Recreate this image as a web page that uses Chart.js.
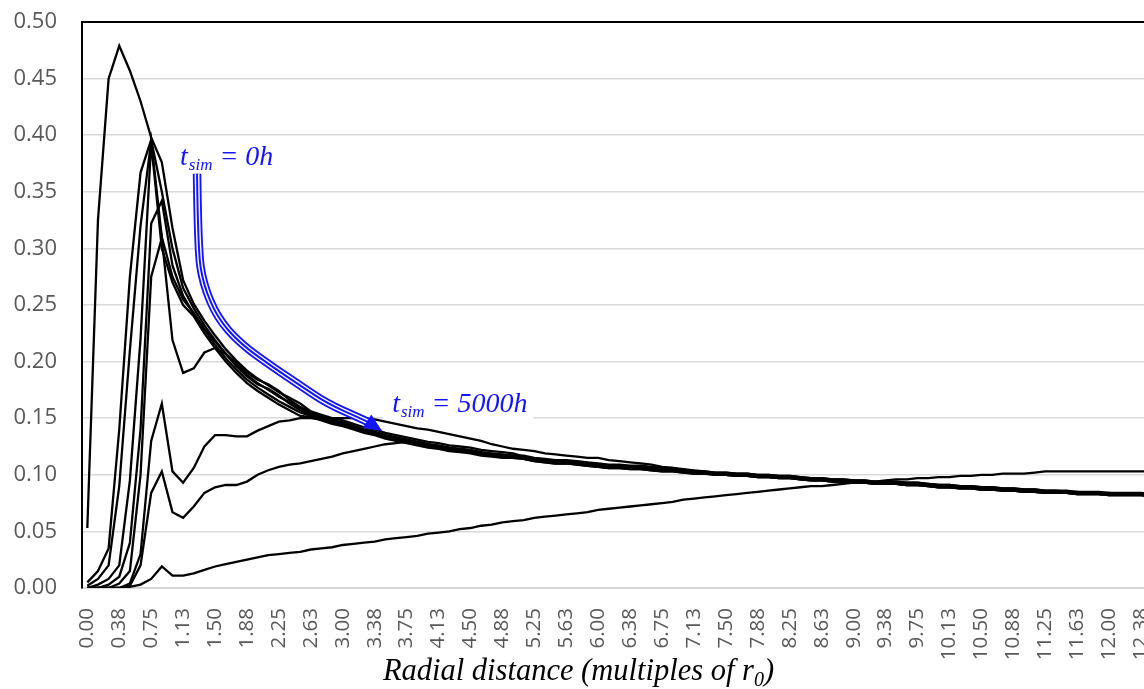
<!DOCTYPE html>
<html>
<head>
<meta charset="utf-8">
<script src="https://cdn.jsdelivr.net/npm/chart.js@4.4.1/dist/chart.umd.min.js"></script>
<style>
  html, body { margin: 0; padding: 0; background: #fff; overflow: hidden; }
  #wrap { width: 1157px; height: 689px; }
</style>
</head>
<body>
<div id="wrap"><canvas id="c" width="1157" height="689"></canvas></div>
<script>
// Radial distance categories (multiples of r0), step 0.125
const radialDistance = [
  "0.00","0.13","0.25","0.38","0.50","0.63","0.75","0.88","1.00","1.13",
  "1.25","1.38","1.50","1.63","1.75","1.88","2.00","2.13","2.25","2.38",
  "2.50","2.63","2.75","2.88","3.00","3.13","3.25","3.38","3.50","3.63",
  "3.75","3.88","4.00","4.13","4.25","4.38","4.50","4.63","4.75","4.88",
  "5.00","5.13","5.25","5.38","5.50","5.63","5.75","5.88","6.00","6.13",
  "6.25","6.38","6.50","6.63","6.75","6.88","7.00","7.13","7.25","7.38",
  "7.50","7.63","7.75","7.88","8.00","8.13","8.25","8.38","8.50","8.63",
  "8.75","8.88","9.00","9.13","9.25","9.38","9.50","9.63","9.75","9.88",
  "10.00","10.13","10.25","10.38","10.50","10.63","10.75","10.88","11.00","11.13",
  "11.25","11.38","11.50","11.63","11.75","11.88","12.00","12.13","12.25","12.38",
  "12.50"
];

// Every third category carries a printed label
const labelEvery = 3;

// Y axis tick values
const yTicks = [0.00, 0.05, 0.10, 0.15, 0.20, 0.25, 0.30, 0.35, 0.40, 0.45, 0.50];

const profile1 = [
  0.053,0.325,0.450,0.479,0.457,0.430,0.398,0.376,0.318,0.272,
  0.251,0.236,0.223,0.211,0.201,0.192,0.185,0.179,0.173,0.168,
  0.163,0.156,0.153,0.150,0.148,0.145,0.142,0.140,0.137,0.135,
  0.133,0.131,0.129,0.128,0.126,0.125,0.124,0.122,0.121,0.120,
  0.119,0.116,0.114,0.113,0.112,0.112,0.111,0.110,0.109,0.108,
  0.108,0.107,0.107,0.106,0.105,0.105,0.104,0.103,0.103,0.102,
  0.102,0.101,0.101,0.100,0.100,0.099,0.099,0.098,0.097,0.097,
  0.096,0.096,0.095,0.095,0.094,0.094,0.094,0.093,0.093,0.092,
  0.091,0.091,0.090,0.090,0.089,0.089,0.088,0.088,0.087,0.087,
  0.086,0.086,0.086,0.085,0.085,0.085,0.084,0.084,0.084,0.084,
  0.083
];
const profile2 = [
  0.005,0.015,0.035,0.140,0.275,0.367,0.396,0.350,0.300,0.265,
  0.247,0.232,0.219,0.207,0.197,0.188,0.181,0.175,0.169,0.164,
  0.159,0.154,0.151,0.148,0.146,0.143,0.140,0.138,0.135,0.133,
  0.131,0.129,0.127,0.126,0.124,0.123,0.122,0.120,0.119,0.118,
  0.117,0.115,0.113,0.112,0.111,0.111,0.110,0.109,0.108,0.107,
  0.107,0.106,0.106,0.105,0.104,0.104,0.103,0.102,0.102,0.101,
  0.101,0.100,0.100,0.099,0.099,0.098,0.098,0.097,0.096,0.096,
  0.095,0.095,0.094,0.094,0.093,0.093,0.093,0.092,0.092,0.091,
  0.090,0.090,0.089,0.089,0.088,0.088,0.087,0.087,0.086,0.086,
  0.085,0.085,0.085,0.084,0.084,0.084,0.083,0.083,0.083,0.083,
  0.082
];
const profile3 = [
  0.002,0.008,0.020,0.090,0.210,0.320,0.395,0.310,0.275,0.255,
  0.243,0.228,0.215,0.203,0.193,0.184,0.177,0.171,0.165,0.160,
  0.155,0.152,0.149,0.146,0.144,0.141,0.138,0.136,0.133,0.131,
  0.129,0.127,0.125,0.124,0.122,0.121,0.120,0.118,0.117,0.116,
  0.115,0.114,0.112,0.111,0.110,0.110,0.109,0.108,0.107,0.106,
  0.106,0.105,0.105,0.104,0.103,0.103,0.102,0.101,0.101,0.100,
  0.100,0.099,0.099,0.098,0.098,0.097,0.097,0.096,0.095,0.095,
  0.094,0.094,0.093,0.093,0.092,0.092,0.092,0.091,0.091,0.090,
  0.089,0.089,0.088,0.088,0.087,0.087,0.086,0.086,0.085,0.085,
  0.084,0.084,0.084,0.083,0.083,0.083,0.082,0.082,0.082,0.082,
  0.081
];
const profile4 = [
  0.000,0.003,0.008,0.020,0.095,0.220,0.393,0.300,0.270,0.250,
  0.240,0.225,0.212,0.200,0.190,0.181,0.174,0.168,0.162,0.157,
  0.152,0.151,0.148,0.145,0.143,0.140,0.137,0.135,0.132,0.130,
  0.128,0.126,0.124,0.123,0.121,0.120,0.119,0.117,0.116,0.115,
  0.115,0.115,0.113,0.112,0.111,0.111,0.110,0.109,0.108,0.107,
  0.107,0.106,0.106,0.105,0.104,0.104,0.103,0.102,0.102,0.101,
  0.101,0.100,0.100,0.099,0.099,0.098,0.098,0.097,0.096,0.096,
  0.095,0.095,0.094,0.094,0.093,0.093,0.093,0.092,0.092,0.091,
  0.090,0.090,0.089,0.089,0.088,0.088,0.087,0.087,0.086,0.086,
  0.085,0.085,0.085,0.084,0.084,0.084,0.083,0.083,0.083,0.083,
  0.082
];
const profile5 = [
  0.000,0.000,0.003,0.010,0.040,0.140,0.322,0.342,0.285,0.258,
  0.242,0.229,0.218,0.207,0.196,0.187,0.180,0.176,0.170,0.163,
  0.157,0.153,0.150,0.147,0.145,0.142,0.139,0.137,0.134,0.132,
  0.130,0.128,0.126,0.125,0.123,0.122,0.121,0.119,0.118,0.117,
  0.117,0.117,0.115,0.114,0.113,0.113,0.112,0.111,0.110,0.109,
  0.109,0.108,0.108,0.107,0.106,0.106,0.105,0.104,0.103,0.102,
  0.102,0.101,0.101,0.100,0.100,0.099,0.099,0.098,0.097,0.097,
  0.096,0.096,0.095,0.095,0.094,0.094,0.094,0.093,0.093,0.092,
  0.091,0.091,0.090,0.090,0.089,0.089,0.088,0.088,0.087,0.087,
  0.086,0.086,0.085,0.085,0.084,0.084,0.084,0.083,0.083,0.083,
  0.082
];
const profile6 = [
  0.000,0.000,0.000,0.004,0.015,0.100,0.275,0.309,0.219,0.190,
  0.194,0.208,0.212,0.207,0.199,0.190,0.184,0.180,0.174,0.166,
  0.160,0.155,0.152,0.149,0.146,0.143,0.140,0.138,0.135,0.133,
  0.131,0.129,0.127,0.125,0.124,0.122,0.121,0.120,0.118,0.117,
  0.116,0.115,0.113,0.112,0.111,0.111,0.110,0.109,0.108,0.107,
  0.107,0.106,0.106,0.105,0.104,0.104,0.103,0.102,0.102,0.101,
  0.100,0.099,0.099,0.098,0.098,0.097,0.097,0.096,0.095,0.095,
  0.094,0.094,0.093,0.093,0.092,0.092,0.092,0.091,0.091,0.090,
  0.089,0.089,0.088,0.088,0.087,0.087,0.086,0.086,0.085,0.085,
  0.084,0.084,0.084,0.083,0.083,0.083,0.082,0.082,0.082,0.082,
  0.081
];
const profile7 = [
  0.000,0.000,0.000,0.000,0.004,0.030,0.130,0.163,0.103,0.093,
  0.106,0.125,0.135,0.135,0.134,0.134,0.139,0.143,0.147,0.148,
  0.150,0.150,0.149,0.150,0.150,0.150,0.150,0.149,0.147,0.145,
  0.143,0.141,0.140,0.138,0.136,0.134,0.132,0.130,0.127,0.125,
  0.123,0.122,0.121,0.119,0.118,0.117,0.116,0.115,0.115,0.113,
  0.112,0.111,0.110,0.109,0.107,0.106,0.104,0.103,0.102,0.101,
  0.101,0.100,0.100,0.099,0.099,0.098,0.098,0.097,0.096,0.096,
  0.095,0.095,0.094,0.094,0.093,0.093,0.093,0.092,0.092,0.091,
  0.090,0.090,0.089,0.089,0.088,0.088,0.087,0.087,0.086,0.086,
  0.085,0.085,0.085,0.084,0.084,0.084,0.083,0.083,0.083,0.083,
  0.082
];
const profile8 = [
  0.000,0.000,0.000,0.000,0.002,0.020,0.084,0.103,0.067,0.062,
  0.072,0.084,0.089,0.091,0.091,0.094,0.100,0.104,0.107,0.109,
  0.110,0.112,0.114,0.116,0.119,0.121,0.123,0.125,0.127,0.128,
  0.129,0.128,0.126,0.124,0.122,0.121,0.120,0.118,0.117,0.116,
  0.115,0.114,0.112,0.111,0.110,0.110,0.109,0.108,0.107,0.106,
  0.106,0.105,0.105,0.104,0.103,0.103,0.102,0.101,0.101,0.100,
  0.100,0.099,0.099,0.098,0.098,0.097,0.097,0.096,0.095,0.095,
  0.094,0.094,0.093,0.093,0.092,0.092,0.092,0.091,0.091,0.090,
  0.089,0.089,0.088,0.088,0.087,0.087,0.086,0.086,0.085,0.085,
  0.084,0.084,0.084,0.083,0.083,0.083,0.082,0.082,0.082,0.082,
  0.081
];
const profile9 = [
  0.000,0.000,0.000,0.000,0.001,0.003,0.008,0.019,0.011,0.011,
  0.013,0.016,0.019,0.021,0.023,0.025,0.027,0.029,0.030,0.031,
  0.032,0.034,0.035,0.036,0.038,0.039,0.040,0.041,0.043,0.044,
  0.045,0.046,0.048,0.049,0.050,0.052,0.053,0.055,0.056,0.058,
  0.059,0.060,0.062,0.063,0.064,0.065,0.066,0.067,0.069,0.070,
  0.071,0.072,0.073,0.074,0.075,0.076,0.078,0.079,0.080,0.081,
  0.082,0.083,0.084,0.085,0.086,0.087,0.088,0.089,0.090,0.090,
  0.091,0.092,0.093,0.094,0.094,0.095,0.096,0.096,0.097,0.097,
  0.098,0.098,0.099,0.099,0.100,0.100,0.101,0.101,0.101,0.102,
  0.103,0.103,0.103,0.103,0.103,0.103,0.103,0.103,0.103,0.103,
  0.103
];

const profiles = [profile1, profile2, profile3, profile4, profile5,
                  profile6, profile7, profile8, profile9];

// Annotation geometry, in (category index, value) space
const arrowShaft = [
  [10.31, 0.366], [10.40, 0.299], [10.87, 0.269], [12.19, 0.239],
  [14.35, 0.216], [17.45, 0.195], [19.99, 0.179], [22.53, 0.163],
  [25.63, 0.150], [26.38, 0.1466]
];
const arrowTip = [27.70, 0.1387];
const labelStart = [8.71, 0.3737];
const labelEnd = [28.64, 0.1555];
const labelEndBox = [27.8, 0.1749, 41.9, 0.1484];

const BLUE = '#1414ff';
const SERIF = '"Liberation Serif", "Times New Roman", serif';
const SANS = '"Open Sans", "Noto Sans", sans-serif';

function drawTimeLabel(ctx, px, py, sub, rest, size, subSize) {
  ctx.save();
  ctx.fillStyle = BLUE;
  ctx.textAlign = 'left';
  ctx.textBaseline = 'alphabetic';
  ctx.font = `italic ${size}px ${SERIF}`;
  ctx.fillText('t', px, py);
  let cx = px + ctx.measureText('t').width + 1;
  ctx.font = `italic ${subSize}px ${SERIF}`;
  ctx.fillText(sub, cx, py + 5);
  cx += ctx.measureText(sub).width;
  ctx.font = `italic ${size}px ${SERIF}`;
  ctx.fillText(rest, cx, py);
  ctx.restore();
}

const annotations = {
  id: 'annotations',
  beforeDatasetsDraw(chart) {
    const { ctx, scales: { x, y } } = chart;
    const [i0, v0, i1, v1] = labelEndBox;
    const x0 = x.getPixelForValue(i0), x1 = x.getPixelForValue(i1);
    const y0 = y.getPixelForValue(v0), y1 = y.getPixelForValue(v1);
    ctx.save();
    ctx.fillStyle = '#ffffff';
    ctx.fillRect(x0, y0, x1 - x0, y1 - y0);
    ctx.restore();
  },
  afterDatasetsDraw(chart) {
    const { ctx, scales: { x, y } } = chart;
    const pts = arrowShaft.map(([i, v]) => [x.getPixelForValue(i), y.getPixelForValue(v)]);
    const tracePath = () => {
      ctx.beginPath();
      ctx.moveTo(pts[0][0], pts[0][1]);
      for (let k = 1; k < pts.length - 1; k++) {
        const mx = (pts[k][0] + pts[k + 1][0]) / 2;
        const my = (pts[k][1] + pts[k + 1][1]) / 2;
        ctx.quadraticCurveTo(pts[k][0], pts[k][1], mx, my);
      }
      ctx.lineTo(pts[pts.length - 1][0], pts[pts.length - 1][1]);
    };
    ctx.save();
    ctx.lineCap = 'butt';
    ctx.lineJoin = 'round';
    // compound (triple) stroke: blue outer, white gap, blue core
    tracePath(); ctx.strokeStyle = BLUE; ctx.lineWidth = 8.5; ctx.stroke();
    tracePath(); ctx.strokeStyle = '#ffffff'; ctx.lineWidth = 4.8; ctx.stroke();
    tracePath(); ctx.strokeStyle = BLUE; ctx.lineWidth = 2; ctx.stroke();

    // arrow head
    const tx = x.getPixelForValue(arrowTip[0]), ty = y.getPixelForValue(arrowTip[1]);
    const base = pts[pts.length - 1];
    const dx = tx - base[0], dy = ty - base[1];
    const len = Math.hypot(dx, dy);
    const ux = dx / len, uy = dy / len;
    const bx = tx - ux * 18, by = ty - uy * 18;
    const hw = 8;
    ctx.beginPath();
    ctx.moveTo(tx, ty);
    ctx.lineTo(bx - uy * hw, by + ux * hw);
    ctx.lineTo(bx + uy * hw, by - ux * hw);
    ctx.closePath();
    ctx.fillStyle = BLUE;
    ctx.fill();
    ctx.restore();

    drawTimeLabel(ctx, x.getPixelForValue(labelStart[0]), y.getPixelForValue(labelStart[1]),
                  'sim', ' = 0h', 28, 17);
    drawTimeLabel(ctx, x.getPixelForValue(labelEnd[0]), y.getPixelForValue(labelEnd[1]),
                  'sim', ' = 5000h', 28, 17);
  },
  afterDraw(chart) {
    // horizontal axis title with subscript
    const { ctx } = chart;
    const main = 'Radial distance (multiples of r';
    const sub = '0';
    const tail = ')';
    ctx.save();
    ctx.fillStyle = '#000000';
    ctx.textBaseline = 'alphabetic';
    ctx.textAlign = 'left';
    ctx.font = `italic 30.5px ${SERIF}`;
    const wMain = ctx.measureText(main).width;
    const wTail = ctx.measureText(tail).width;
    ctx.font = `italic 20px ${SERIF}`;
    const wSub = ctx.measureText(sub).width;
    const total = wMain + wSub + wTail;
    let cx = chart.width / 2 - total / 2;
    const baseY = 680;
    ctx.font = `italic 30.5px ${SERIF}`;
    ctx.fillText(main, cx, baseY);
    cx += wMain;
    ctx.font = `italic 20px ${SERIF}`;
    ctx.fillText(sub, cx, baseY + 6);
    cx += wSub;
    ctx.font = `italic 30.5px ${SERIF}`;
    ctx.fillText(tail, cx, baseY);
    ctx.restore();
  }
};

const isTop = v => Math.abs(v - yTicks[yTicks.length - 1]) < 1e-9;

new Chart(document.getElementById('c'), {
  type: 'line',
  data: {
    labels: radialDistance,
    datasets: profiles.map((p, k) => ({
      label: 'profile' + (k + 1),
      data: p,
      borderColor: '#000000',
      borderWidth: 2.3,
      pointRadius: 0,
      fill: false,
      tension: 0
    }))
  },
  options: {
    responsive: false,
    animation: false,
    devicePixelRatio: 1,
    layout: { padding: { top: 22, left: 0, right: 0, bottom: 0 } },
    plugins: { legend: { display: false }, tooltip: { enabled: false }, title: { display: false } },
    scales: {
      x: {
        type: 'category',
        offset: true,
        grid: { display: false, drawTicks: false },
        border: { display: true, color: '#d9d9d9', width: 2 },
        ticks: {
          autoSkip: false,
          minRotation: 90,
          maxRotation: 90,
          padding: 20,
          color: '#595959',
          font: { family: SANS, size: 20.5 },
          callback: (v, i) => (i % labelEvery === 0 ? radialDistance[i] : '')
        },
        afterFit(s) { s.height = 101; s.paddingLeft = 0; s.paddingRight = 0; }
      },
      y: {
        min: yTicks[0],
        max: yTicks[yTicks.length - 1],
        afterBuildTicks(s) { s.ticks = yTicks.map(v => ({ value: v })); },
        ticks: {
          padding: 25,
          color: '#595959',
          font: { family: SANS, size: 22 },
          callback: v => Number(v).toFixed(2)
        },
        grid: {
          drawTicks: false,
          color: c => (c.tick && isTop(c.tick.value) ? '#000000' : '#d9d9d9'),
          lineWidth: c => (c.tick && isTop(c.tick.value) ? 2 : 1.6)
        },
        border: { display: true, color: '#000000', width: 2 },
        afterFit(s) { s.width = 82; s.paddingTop = 0; s.paddingBottom = 0; }
      }
    }
  },
  plugins: [annotations]
});
</script>
</body>
</html>
